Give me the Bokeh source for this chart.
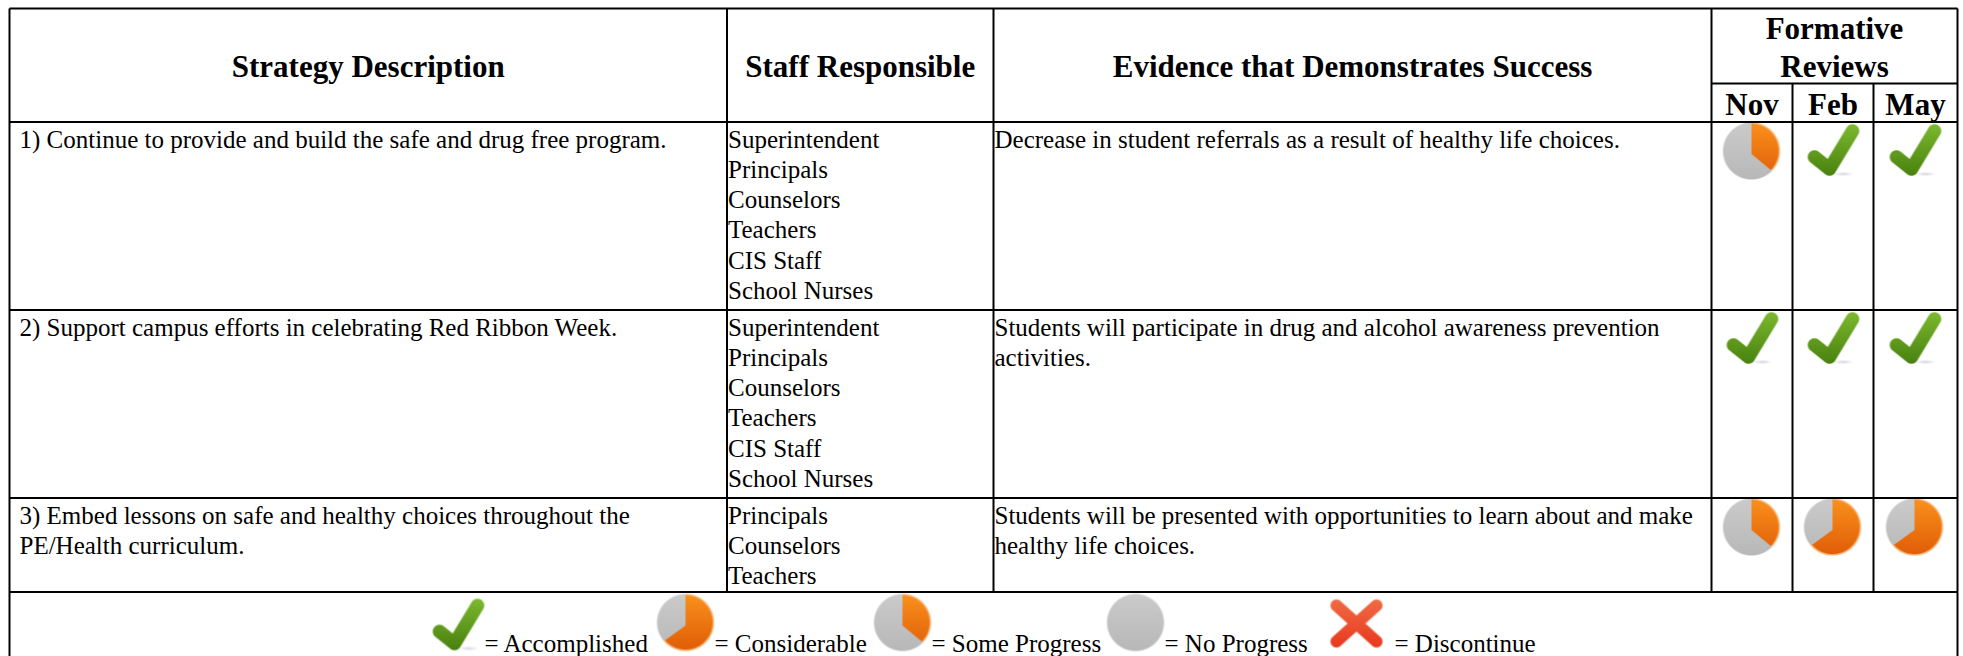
import numpy as np
from bokeh.plotting import figure
from bokeh.models import Range1d
from bokeh.core.properties import value
from bokeh.embed import file_html
from bokeh.resources import INLINE

# ---- content ----
header_cols = ["Strategy Description", "Staff Responsible", "Evidence that Demonstrates Success"]
header_group = ["Formative", "Reviews"]
months = ["Nov", "Feb", "May"]
strategies = [
    ["1) Continue to provide and build the safe and drug free program."],
    ["2) Support campus efforts in celebrating Red Ribbon Week."],
    ["3) Embed lessons on safe and healthy choices throughout the", "PE/Health curriculum."],
]
staff = [
    ["Superintendent", "Principals", "Counselors", "Teachers", "CIS Staff", "School Nurses"],
    ["Superintendent", "Principals", "Counselors", "Teachers", "CIS Staff", "School Nurses"],
    ["Principals", "Counselors", "Teachers"],
]
evidence = [
    ["Decrease in student referrals as a result of healthy life choices."],
    ["Students will participate in drug and alcohol awareness prevention", "activities."],
    ["Students will be presented with opportunities to learn about and make", "healthy life choices."],
]
status = [
    ["some", "done", "done"],
    ["done", "done", "done"],
    ["some", "most", "most"],
]
legend_items = ["Accomplished", "Considerable", "Some Progress", "No Progress", "Discontinue"]

# ---- layout (page pixels) ----
W, H = 1963, 656
col_x = [9, 726.5, 993, 1711, 1792, 1873, 1957]
row_y = [8, 121.5, 309.5, 497.5, 591.5, 656]
sub_y = 83
BODY = 25
HEAD = 31
FONT = value("Liberation Serif")

def Y(py):
    return H - py

p = figure(width=W, height=H, x_range=Range1d(0, W), y_range=Range1d(0, H),
           output_backend="svg", toolbar_location=None, min_border=0)
p.axis.visible = False
p.grid.visible = False
p.outline_line_color = None
p.background_fill_color = "white"
p.border_fill_color = "white"

# ---- icons ----
def finish(rgb, a, s):
    h, w = a.shape
    h2, w2 = h // s, w // s
    a2 = a.reshape(h2, s, w2, s).mean(axis=(1, 3))
    c = (rgb * a[..., None]).reshape(h2, s, w2, s, 3).mean(axis=(1, 3))
    c = c / np.maximum(a2[..., None], 1e-6)
    out = np.zeros((h2, w2), dtype=np.uint32)
    v = out.view(dtype=np.uint8).reshape(h2, w2, 4)
    v[..., :3] = np.clip(c, 0, 255)
    v[..., 3] = np.clip(a2 * 255, 0, 255)
    return out[::-1]

def vgrad(t, c0, c1):
    t = np.clip(t, 0, 1)[..., None]
    return np.array(c0, float) * (1 - t) + np.array(c1, float) * t

def seg_dist(xx, yy, a, b):
    a, b = np.array(a, float), np.array(b, float)
    d = b - a
    t = np.clip(((xx - a[0]) * d[0] + (yy - a[1]) * d[1]) / (d @ d), 0, 1)
    return np.hypot(xx - a[0] - t * d[0], yy - a[1] - t * d[1])

def grid(w, h, s=4):
    yy, xx = np.mgrid[0:h * s, 0:w * s]
    return (xx + .5) / s, (yy + .5) / s

def pie_icon(frac, w=58, h=58, s=4):
    xx, yy = grid(w, h, s)
    cx, cy, r = w / 2, h / 2, 28.5
    rr = np.hypot(xx - cx, yy - cy)
    inside = np.clip((r - rr) * 0.8 + .5, 0, 1)
    t = yy / h
    rgb = vgrad(t, (203, 203, 203), (184, 184, 184))
    ax, ay = cx, cy + 3
    ang = np.mod(np.arctan2(xx - ax, -(yy - ay)), 2 * np.pi)
    if frac > 0:
        orange = (ang <= frac * 2 * np.pi) & (xx >= cx)
        if frac > .5:
            orange = ang <= frac * 2 * np.pi
        rgb2 = vgrad(t, (250, 146, 30), (224, 92, 6))
        rgb = np.where(orange[..., None], rgb2, rgb)
        rim = orange & (rr > r - 1.5)
        rgb = np.where(rim[..., None], np.array((248, 170, 100.)), rgb)
    return finish(rgb, inside, s)

def stroke_icon(pts, c0, c1, width, w, h, shadow, s=4):
    xx, yy = grid(w, h, s)
    d = np.min([seg_dist(xx, yy, a, b) for a, b in pts], axis=0)
    a = np.clip((width / 2 - d) * 1.0 + .5, 0, 1)
    rgb = vgrad(yy / h, c0, c1)
    sx0, sx1, sy = shadow
    sd = np.hypot((xx - (sx0 + sx1) / 2) / ((sx1 - sx0) / 2), (yy - sy) / 2.2)
    sa = np.clip(1 - sd, 0, 1) * .55
    rgb = np.where((a < sa)[..., None], np.array((175, 178, 195.)), rgb)
    return finish(rgb, np.maximum(a, sa), s)

ICONS = {
    "done": stroke_icon([((9, 34), (24, 46)), ((24, 46), (47, 8))], (126, 186, 48), (72, 128, 14), 13.5, 56, 54, (28, 48, 51)),
    "some": pie_icon(.36),
    "most": pie_icon(.65),
    "none": pie_icon(0),
    "stop": stroke_icon([((19, 8), (59, 44)), ((59, 8), (19, 44))], (240, 110, 70), (232, 52, 28), 12, 78, 54, (38, 38, 51)),
}

def put(kind, left, top):
    img = ICONS[kind]
    h, w = img.shape
    p.image_rgba(image=[img], x=left, y=Y(top + h), dw=w, dh=h)

col_pie = [1722, 1803, 1885]
col_chk = [1724, 1805, 1887]
for r, row in enumerate(status):
    for c, k in enumerate(row):
        if k == "done":
            put(k, col_chk[c], row_y[r + 1] + 1)
        else:
            put(k, col_pie[c], row_y[r + 1])

# ---- grid lines ----
hx0, hx1, hy = [], [], []
for y in row_y[:5]:
    hx0.append(col_x[0]); hx1.append(col_x[-1]); hy.append(y)
p.segment(x0=hx0, x1=hx1, y0=[Y(v) for v in hy], y1=[Y(v) for v in hy], line_color="black", line_width=2)
p.segment(x0=[col_x[3]], x1=[col_x[-1]], y0=[Y(sub_y)], y1=[Y(sub_y)], line_color="black", line_width=2)
vx, vy0, vy1 = [], [], []
for i, x in enumerate(col_x):
    top = sub_y if i in (4, 5) else row_y[0]
    bot = row_y[5] if i in (0, 6) else row_y[4]
    vx.append(x); vy0.append(top); vy1.append(bot)
p.segment(x0=vx, x1=vx, y0=[Y(v) for v in vy0], y1=[Y(v) for v in vy1], line_color="black", line_width=2)

# ---- texts ----
def txt(x, py, s, size=BODY, style="normal", align="left"):
    p.text(x=[x], y=[Y(py - 0.3 * size)], text=[s], text_font=FONT, text_font_size=value(f"{size}px"),
           text_font_style=value(style), text_align=value(align), text_baseline=value("middle"), text_color="#000000")

centers = [(col_x[0] + col_x[1]) / 2, (col_x[1] + col_x[2]) / 2, (col_x[2] + col_x[3]) / 2]
for cx, s in zip(centers, header_cols):
    txt(cx, 75, s, HEAD, "bold", "center")
gx = (col_x[3] + col_x[-1]) / 2
txt(gx, 37, header_group[0], HEAD, "bold", "center")
txt(gx, 75, header_group[1], HEAD, "bold", "center")
for i, m in enumerate(months):
    txt((col_x[3 + i] + col_x[4 + i]) / 2, 113, m, HEAD, "bold", "center")

LH = 30.3
for r in range(3):
    base = row_y[r + 1] + 24.5
    for i, s in enumerate(strategies[r]):
        txt(col_x[0] + 10, base + i * LH, s)
    for i, s in enumerate(staff[r]):
        txt(col_x[1] + 1, base + i * LH, s)
    for i, s in enumerate(evidence[r]):
        txt(col_x[2] + 1, base + i * LH, s)

lb = 650
put("done", 430, 597)
txt(484, lb, "= " + legend_items[0])
put("most", 656, 593)
txt(714, lb, "= " + legend_items[1])
put("some", 873, 593)
txt(931, lb, "= " + legend_items[2])
put("none", 1106, 593)
txt(1164, lb, "= " + legend_items[3])
put("stop", 1317, 597)
txt(1394, lb, "= " + legend_items[4])

open("out.html", "w").write(file_html(p, INLINE))
